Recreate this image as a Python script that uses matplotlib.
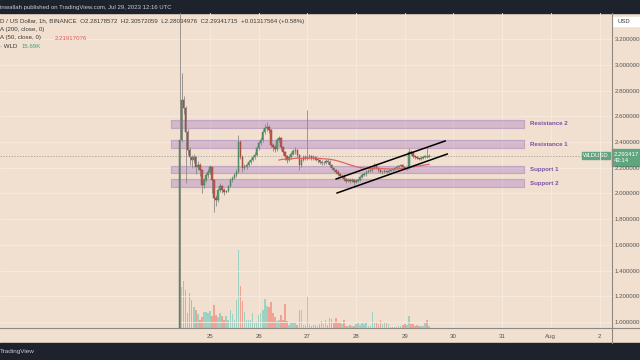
import numpy as np
import matplotlib.pyplot as plt

# WLD/USD 1h candles, 24 Jul 09:00 -> 29 Jul 12:00
closes = [2.416, 2.728, 2.665, 2.479, 2.339, 2.284, 2.261, 2.284, 2.206, 2.222,
          2.183, 2.066, 2.105, 2.144, 2.167, 2.206, 2.105, 1.965, 1.949, 2.027,
          2.058, 2.027, 2.012, 2.019, 2.058, 2.105, 2.121, 2.144, 2.167, 2.401,
          2.284, 2.198, 2.206, 2.222, 2.245, 2.261, 2.284, 2.300, 2.354, 2.393,
          2.416, 2.479, 2.510, 2.518, 2.494, 2.377, 2.362, 2.346, 2.416, 2.432,
          2.362, 2.323, 2.292, 2.261, 2.284, 2.307, 2.331, 2.339, 2.300, 2.222,
          2.261, 2.284, 2.276, 2.284, 2.292, 2.276, 2.284, 2.261, 2.261, 2.245,
          2.237, 2.237, 2.253, 2.245, 2.222, 2.198, 2.183, 2.167, 2.152, 2.136,
          2.136, 2.113, 2.097, 2.105, 2.097, 2.105, 2.089, 2.097, 2.105, 2.128,
          2.144, 2.152, 2.167, 2.175, 2.183, 2.198, 2.222, 2.198, 2.183, 2.167,
          2.167, 2.175, 2.167, 2.175, 2.183, 2.183, 2.198, 2.206, 2.214, 2.222,
          2.206, 2.198, 2.198, 2.323, 2.315, 2.292, 2.284, 2.276, 2.268, 2.276,
          2.284, 2.284, 2.282, 2.2934]
highs = [5.00, 2.94, 2.76, 2.68, 2.50, 2.36, 2.30, 2.31, 2.29, 2.25,
         2.24, 2.19, 2.12, 2.16, 2.19, 2.22, 2.21, 2.11, 1.99, 2.04,
         2.08, 2.07, 2.04, 2.03, 2.07, 2.12, 2.14, 2.16, 2.19, 2.455,
         2.42, 2.30, 2.23, 2.24, 2.26, 2.28, 2.30, 2.32, 2.37, 2.41,
         2.44, 2.50, 2.54, 2.556, 2.53, 2.50, 2.39, 2.38, 2.43, 2.45,
         2.44, 2.37, 2.33, 2.30, 2.30, 2.32, 2.35, 2.36, 2.35, 2.31,
         2.28, 2.30, 2.30, 2.65, 2.31, 2.30, 2.30, 2.29, 2.28, 2.27,
         2.26, 2.25, 2.27, 2.27, 2.26, 2.23, 2.21, 2.19, 2.18, 2.16,
         2.15, 2.15, 2.12, 2.12, 2.12, 2.12, 2.11, 2.11, 2.12, 2.14,
         2.16, 2.17, 2.18, 2.19, 2.20, 2.21, 2.24, 2.23, 2.21, 2.19,
         2.18, 2.19, 2.18, 2.19, 2.19, 2.19, 2.21, 2.22, 2.22, 2.23,
         2.23, 2.21, 2.21, 2.354, 2.34, 2.32, 2.30, 2.29, 2.28, 2.29,
         2.29, 2.30, 2.354, 2.3057]
lows = [0.10, 2.40, 2.62, 2.08, 2.30, 2.22, 2.20, 2.24, 2.15, 2.18,
        2.14, 2.00, 2.04, 2.09, 2.12, 2.15, 2.00, 1.855, 1.90, 1.93,
        2.01, 2.00, 1.99, 2.00, 2.01, 2.05, 2.09, 2.11, 2.13, 2.16,
        2.27, 2.17, 2.18, 2.19, 2.21, 2.23, 2.25, 2.27, 2.29, 2.34,
        2.38, 2.40, 2.46, 2.49, 2.47, 2.36, 2.33, 2.32, 2.33, 2.40,
        2.34, 2.30, 2.26, 2.24, 2.25, 2.27, 2.30, 2.31, 2.28, 2.183,
        2.21, 2.25, 2.26, 2.26, 2.27, 2.26, 2.26, 2.25, 2.24, 2.23,
        2.22, 2.22, 2.23, 2.23, 2.21, 2.18, 2.17, 2.15, 2.14, 2.12,
        2.12, 2.10, 2.08, 2.09, 2.08, 2.09, 2.07, 2.08, 2.09, 2.10,
        2.12, 2.14, 2.14, 2.16, 2.17, 2.17, 2.19, 2.19, 2.17, 2.16,
        2.15, 2.16, 2.16, 2.16, 2.17, 2.17, 2.18, 2.19, 2.20, 2.21,
        2.20, 2.19, 2.18, 2.19, 2.30, 2.28, 2.27, 2.27, 2.26, 2.26,
        2.27, 2.28, 2.28, 2.2803]
first_open = 0.90
last_open = 2.2818
volumes_k = [1500, 374, 430, 347, 138, 322, 255, 193, 166, 129,
             71, 98, 147, 147, 138, 154, 108, 212, 122, 101,
             138, 108, 76, 108, 71, 168, 129, 76, 260, 720,
             389, 251, 147, 71, 71, 76, 138, 58, 58, 122,
             138, 168, 270, 200, 193, 239, 138, 98, 62, 71,
             122, 71, 224, 62, 30, 52, 46, 52, 25, 168,
             163, 30, 30, 294, 37, 21, 28, 30, 21, 40,
             62, 40, 76, 30, 89, 83, 46, 89, 46, 46,
             40, 76, 21, 16, 25, 16, 21, 40, 46, 30,
             46, 40, 52, 21, 21, 150, 52, 46, 40, 71,
             34, 55, 46, 37, 12, 12, 9, 12, 16, 21,
             30, 37, 25, 113, 40, 34, 16, 30, 16, 16,
             16, 46, 76, 15.69]

zones = [("Resistance 2", 2.510, 2.572), ("Resistance 1", 2.354, 2.416),
         ("Support 1", 2.160, 2.214), ("Support 2", 2.050, 2.113)]
channel_upper = ([27.59, 29.83], [2.113, 2.409])
channel_lower = ([27.61, 29.87], [2.004, 2.307])
price_ticks = [1.0, 1.2, 1.4, 1.6, 1.8, 2.0, 2.2, 2.4, 2.6, 2.8, 3.0, 3.2]
day_ticks = [25, 26, 27, 28, 29, 30, 31, 32, 33]
day_labels = ["25", "26", "27", "28", "29", "30", "31", "Aug", "2"]

BG = "#f1e0cf"
DARK = "#1e222d"
UP, UP_EDGE = "#5b9b77", "#3e7656"
DN, DN_EDGE = "#c45a4f", "#8a3a33"
plt.rcParams["font.family"] = ["Liberation Sans", "DejaVu Sans"]

n = len(closes)
c = np.array(closes)
o = np.array([first_open] + closes[:-1])
o[-1] = last_open
h = np.array(highs)
l = np.array(lows)
t = 24 + (9 + np.arange(n)) / 24.0
up = c >= o

# EMA 50 with SMA seed (as TradingView)
ema = np.full(n, np.nan)
ema[49] = c[:50].mean()
a = 2 / 51
for i in range(50, n):
    ema[i] = a * c[i] + (1 - a) * ema[i - 1]

fig = plt.figure(figsize=(6.4, 3.6), dpi=100, facecolor=BG)
rect = [0, 32 / 360, 612 / 640, 315 / 360]
axv = fig.add_axes(rect, facecolor=BG)
ax = fig.add_axes(rect)
ax.patch.set_visible(False)
axv.set_zorder(1)
ax.set_zorder(2)

xlim = (20.688, 33.255)

# volume
axv.bar(t, volumes_k, width=0.75 / 24,
        color=np.where(up, "#9dd2c3", "#f2a293"), linewidth=0)
axv.set_xlim(*xlim)
axv.set_ylim(0, 2898)
for d in day_ticks:
    axv.axvline(d, color="#f6ebe2", lw=0.6, zorder=0)
axv.axis("off")

# grid for prices
for p in price_ticks:
    ax.axhline(p, color="#f6ebe2", lw=0.6, zorder=0)

# zones
for name, lo, hi in zones:
    ax.fill_between([24.2, 31.447], lo, hi, facecolor="#a476c4", alpha=0.36,
                    edgecolor="#8f63b5", lw=0.9, zorder=1)
    ax.text(31.57, (lo + hi) / 2, name, color="#7b4fa8", fontsize=4.4,
            fontweight="bold", va="center", ha="left")

# current price line
ax.axhline(c[-1], color="#9d9590", lw=0.5, ls=(0, (2, 2)), zorder=1)

# candles
ax.vlines(t, l, h, colors="#8e8985", lw=0.6, zorder=3)
body = np.maximum(np.abs(c - o), 0.004)
ax.bar(t, body, bottom=np.minimum(o, c), width=0.7 / 24,
       color=np.where(up, UP, DN), edgecolor=np.where(up, UP_EDGE, DN_EDGE),
       linewidth=0.3, zorder=4)

# EMA 50 and channel
ax.plot(t, ema, color="#e06464", lw=0.9, zorder=5)
ax.plot(*channel_upper, color="black", lw=1.1, zorder=6)
ax.plot(*channel_lower, color="black", lw=1.1, zorder=6)

ax.set_xlim(*xlim)
ax.set_ylim(0.953, 3.405)
ax.set_xticks(day_ticks, day_labels)
ax.set_yticks(price_ticks, [f"{p:.6f}" for p in price_ticks])
ax.yaxis.tick_right()
ax.tick_params(axis="y", length=0, pad=2, labelsize=4.4, labelcolor="#555555")
ax.tick_params(axis="x", length=0, pad=4, labelsize=4.4, labelcolor="#555555")
for s in ["top", "left", "bottom", "right"]:
    ax.spines[s].set_visible(False)

# frame lines
fig.add_artist(plt.Line2D([0, 1], [1 - 328 / 360] * 2, color="#8c8884", lw=0.8))
fig.add_artist(plt.Line2D([612 / 640] * 2, [1 - 343 / 360, 1 - 13 / 360],
                          color="#8c8884", lw=0.8))

# dark bars
fig.add_artist(plt.Rectangle((0, 1 - 13 / 360), 1, 13 / 360,
                             transform=fig.transFigure, color=DARK))
fig.add_artist(plt.Rectangle((0, 0), 1, 17 / 360,
                             transform=fig.transFigure, color=DARK))
fig.text(0, 1 - 7 / 360, "inwallah published on TradingView.com, Jul 29, 2023 12:16 UTC",
         color="#c9ccd4", fontsize=4.3, va="center")
fig.text(0, 8 / 360, "TradingView", color="#c9ccd4", fontsize=4.6, va="center")

# legend
fig.text(0, 1 - 21 / 360, "D / US Dollar, 1h, BINANCE  O2.28178572  H2.30572059  "
         "L2.28034976  C2.29341715  +0.01317564 (+0.58%)",
         color="#3a3a3a", fontsize=4.4, va="center")
fig.text(0, 1 - 30 / 360, "A (200, close, 0)", color="#3a3a3a", fontsize=4.4, va="center")
fig.text(0, 1 - 38 / 360, "A (50, close, 0)", color="#3a3a3a", fontsize=4.4, va="center")
fig.text(55 / 640, 1 - 38 / 360, "2.21917076", color="#e05a5a", fontsize=4.4, va="center")
fig.text(0, 1 - 46 / 360, "· WLD", color="#3a3a3a", fontsize=4.4, va="center")
fig.text(22 / 640, 1 - 46 / 360, "15.69K", color="#3f9f80", fontsize=4.4, va="center")

# USD box
fig.add_artist(plt.Rectangle((613 / 640, 1 - 26 / 360), 27 / 640, 9 / 360,
                             transform=fig.transFigure, color="white"))
fig.text(617 / 640, 1 - 21.5 / 360, "USD", color="#333333", fontsize=4.2, va="center")

# price labels
GREEN = "#5fa57e"
fig.add_artist(plt.Rectangle((612 / 640, 1 - 166 / 360), 28 / 640, 17 / 360,
                             transform=fig.transFigure, color=GREEN))
fig.text(614 / 640, 1 - 154.5 / 360, "2.293417", color="white", fontsize=4.3, va="center")
fig.text(614 / 640, 1 - 161 / 360, "43:14", color="white", fontsize=4.3, va="center")
fig.add_artist(plt.Rectangle((582 / 640, 1 - 159 / 360), 28 / 640, 7 / 360,
                             transform=fig.transFigure, color=GREEN))
fig.text(596 / 640, 1 - 155.5 / 360, "WLDUSD", color="white", fontsize=4.2,
         va="center", ha="center")

fig.savefig("out.png", dpi=100, facecolor=BG)
